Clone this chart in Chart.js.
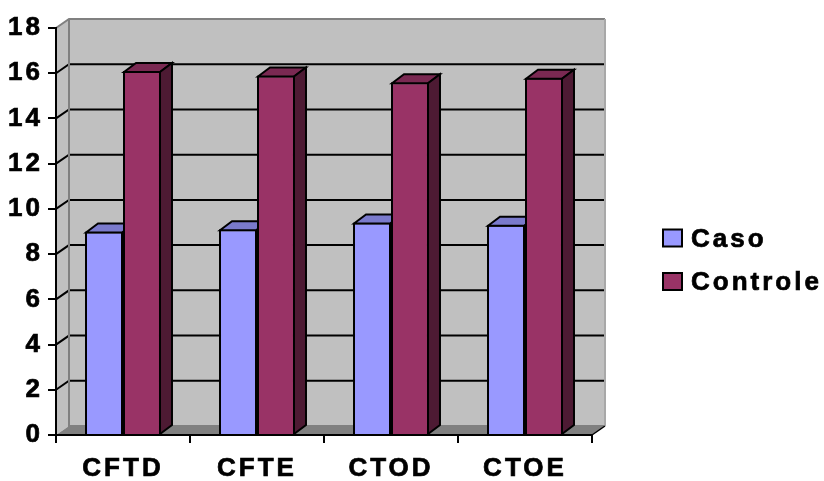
<!DOCTYPE html>
<html>
<head>
<meta charset="utf-8">
<script src="https://cdn.jsdelivr.net/npm/chart.js@4/dist/chart.umd.min.js"></script>
<style>
  html, body { margin: 0; padding: 0; background: #ffffff; }
  #wrap { width: 824px; height: 481px; }
</style>
</head>
<body>
<div id="wrap"><canvas id="chart" width="824" height="481"></canvas></div>
<script>
// Categories and series
const categories = ['CFTD', 'CFTE', 'CTOD', 'CTOE'];
const casoValues = [9.0, 9.1, 9.4, 9.3];
const controleValues = [16.1, 15.9, 15.6, 15.8];
const seriesNames = ['Caso', 'Controle'];
const seriesColors = ['#9999FF', '#993366'];
// Value axis
const yMin = 0;
const yMax = 18;
const yStep = 2;

const FONT_FAMILY = '"Liberation Sans", Arial, Helvetica, sans-serif';
const FONT_SIZE = 26;
const LETTER_SPACING = '3px';
const TEXT_STROKE = 0.7;

// Depth of the walls and of the bars (pseudo-3D offset)
const WALL_DX = 13, WALL_DY = 9;
const BAR_DX = 12, BAR_DY = 9;

function shade(hex, f) {
  const n = parseInt(hex.slice(1), 16);
  const r = Math.round(((n >> 16) & 255) * f);
  const g = Math.round(((n >> 8) & 255) * f);
  const b = Math.round((n & 255) * f);
  return 'rgb(' + r + ',' + g + ',' + b + ')';
}

function poly(ctx, pts, fill, stroke, lw) {
  ctx.beginPath();
  ctx.moveTo(pts[0][0], pts[0][1]);
  for (let i = 1; i < pts.length; i++) ctx.lineTo(pts[i][0], pts[i][1]);
  ctx.closePath();
  if (fill) { ctx.fillStyle = fill; ctx.fill(); }
  if (stroke) { ctx.strokeStyle = stroke; ctx.lineWidth = lw || 2; ctx.stroke(); }
}

// Back wall, side wall, floor and the gridlines drawn on the walls
const wallsPlugin = {
  id: 'walls3d',
  beforeDraw(chart) {
    const ctx = chart.ctx;
    const a = chart.chartArea;
    const ys = chart.scales.y;
    ctx.letterSpacing = LETTER_SPACING;
    ctx.save();
    ctx.lineJoin = 'miter';
    // back wall
    poly(ctx, [[a.left + WALL_DX, a.top - WALL_DY], [a.right + WALL_DX, a.top - WALL_DY],
               [a.right + WALL_DX, a.bottom - WALL_DY], [a.left + WALL_DX, a.bottom - WALL_DY]], '#C0C0C0');
    // side wall
    poly(ctx, [[a.left, a.top], [a.left + WALL_DX, a.top - WALL_DY],
               [a.left + WALL_DX, a.bottom - WALL_DY], [a.left, a.bottom]], '#C0C0C0');
    // floor
    poly(ctx, [[a.left, a.bottom], [a.left + WALL_DX, a.bottom - WALL_DY],
               [a.right + WALL_DX, a.bottom - WALL_DY], [a.right, a.bottom]], '#808080');
    // gridlines
    ctx.strokeStyle = '#000000';
    ctx.lineWidth = 2;
    for (let v = yMin + yStep; v < yMax; v += yStep) {
      const py = ys.getPixelForValue(v);
      ctx.beginPath();
      ctx.moveTo(a.left, py);
      ctx.lineTo(a.left + WALL_DX, py - WALL_DY);
      ctx.lineTo(a.right + WALL_DX, py - WALL_DY);
      ctx.stroke();
    }
    // wall edges
    ctx.strokeStyle = '#808080';
    ctx.lineWidth = 2;
    ctx.beginPath();
    ctx.moveTo(a.left, a.top);
    ctx.lineTo(a.left + WALL_DX, a.top - WALL_DY);
    ctx.lineTo(a.right + WALL_DX, a.top - WALL_DY);
    ctx.moveTo(a.left + WALL_DX, a.top - WALL_DY);
    ctx.lineTo(a.left + WALL_DX, a.bottom - WALL_DY);
    ctx.lineTo(a.right + WALL_DX, a.bottom - WALL_DY);
    ctx.stroke();
    ctx.strokeStyle = '#A8A8A8';
    ctx.beginPath();
    ctx.moveTo(a.right + WALL_DX, a.top - WALL_DY);
    ctx.lineTo(a.right + WALL_DX, a.bottom - WALL_DY);
    ctx.stroke();
    ctx.strokeStyle = '#000000';
    ctx.lineWidth = 1.5;
    ctx.beginPath();
    ctx.moveTo(a.right, a.bottom);
    ctx.lineTo(a.right + WALL_DX, a.bottom - WALL_DY);
    ctx.stroke();
    ctx.restore();
  }
};

// Top and side faces of every bar. Bars of the later series stand directly to the
// right of the earlier ones, so only the last series shows its side face and the
// earlier tops are cut at their own right edge.
const bars3dPlugin = {
  id: 'bars3d',
  afterDatasetDraw(chart, args) {
    const ctx = chart.ctx;
    const color = chart.data.datasets[args.index].backgroundColor;
    const topColor = shade(color, 0.8);
    const sideColor = shade(color, 0.5);
    const isLast = args.index === chart.data.datasets.length - 1;
    ctx.save();
    ctx.lineJoin = 'miter';
    args.meta.data.forEach(bar => {
      const p = bar.getProps(['x', 'y', 'base', 'width'], true);
      const l = p.x - p.width / 2 + 1;
      const r = p.x + p.width / 2 - 1;
      const t = p.y + 1;
      const b = p.base;
      ctx.save();
      if (!isLast) {
        ctx.beginPath();
        ctx.rect(l - 3, 0, r - l + 4, chart.height);
        ctx.clip();
      }
      poly(ctx, [[l, t], [l + BAR_DX, t - BAR_DY], [r + BAR_DX, t - BAR_DY], [r, t]], topColor, '#000', 2);
      if (isLast) {
        poly(ctx, [[r, t], [r + BAR_DX, t - BAR_DY], [r + BAR_DX, b - BAR_DY], [r, b]], sideColor, '#000', 2);
      }
      ctx.restore();
    });
    ctx.restore();
  }
};

// Legend on the right
const legendPlugin = {
  id: 'sideLegend',
  afterDraw(chart) {
    const ctx = chart.ctx;
    ctx.save();
    ctx.letterSpacing = LETTER_SPACING;
    ctx.font = 'bold ' + FONT_SIZE + 'px ' + FONT_FAMILY;
    ctx.textBaseline = 'alphabetic';
    ctx.textAlign = 'left';
    const boxX = 663, boxW = 19, boxH = 17;
    const rows = [229.5, 273];
    chart.data.datasets.forEach((ds, i) => {
      const y = rows[i];
      ctx.fillStyle = ds.backgroundColor;
      ctx.fillRect(boxX, y, boxW, boxH);
      ctx.strokeStyle = '#000';
      ctx.lineWidth = 2;
      ctx.strokeRect(boxX, y, boxW, boxH);
      ctx.fillStyle = '#000';
      ctx.lineWidth = TEXT_STROKE;
      ctx.strokeText(ds.label, 691, y + 17);
      ctx.fillText(ds.label, 691, y + 17);
    });
    ctx.restore();
  }
};

const tickFont = { family: FONT_FAMILY, size: FONT_SIZE, weight: 'bold' };

new Chart(document.getElementById('chart'), {
  type: 'bar',
  data: {
    labels: categories,
    datasets: [
      { label: seriesNames[0], data: casoValues, backgroundColor: seriesColors[0],
        borderColor: '#000000', borderWidth: 2, clip: false },
      { label: seriesNames[1], data: controleValues, backgroundColor: seriesColors[1],
        borderColor: '#000000', borderWidth: 2, clip: false }
    ]
  },
  options: {
    responsive: false,
    animation: false,
    devicePixelRatio: 1,
    categoryPercentage: 0.567,
    barPercentage: 1.0,
    layout: { padding: { left: 0, top: 28, right: 232, bottom: 0 } },
    plugins: { legend: { display: false }, tooltip: { enabled: false } },
    scales: {
      x: {
        grid: { offset: true, drawOnChartArea: false, drawTicks: true, tickLength: 8, color: '#000', lineWidth: 2 },
        border: { display: true, color: '#000', width: 2 },
        ticks: { color: '#000', font: tickFont, padding: 10, maxRotation: 0,
                 textStrokeColor: '#000', textStrokeWidth: TEXT_STROKE },
        afterFit(scale) { scale.height = 46; }
      },
      y: {
        min: yMin, max: yMax,
        grid: { drawOnChartArea: false, drawTicks: true, tickLength: 8, color: '#000', lineWidth: 2 },
        border: { display: true, color: '#000', width: 2 },
        ticks: { stepSize: yStep, color: '#000', font: tickFont, padding: 5,
                 textStrokeColor: '#000', textStrokeWidth: TEXT_STROKE },
        afterFit(scale) { scale.width = 56; }
      }
    }
  },
  plugins: [wallsPlugin, bars3dPlugin, legendPlugin]
});
</script>
</body>
</html>
